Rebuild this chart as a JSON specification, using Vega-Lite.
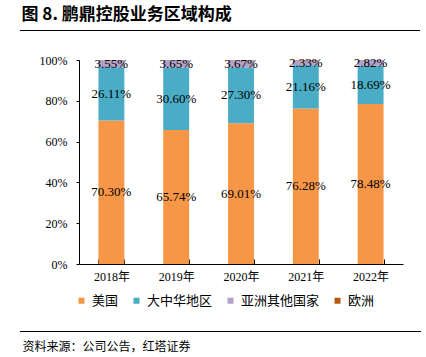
{
  "$schema": "https://vega.github.io/schema/vega-lite/v6.json",
  "width": 324,
  "height": 204,
  "autosize": {"type": "none"},
  "padding": {"left": 79, "top": 60, "right": 23, "bottom": 93},
  "background": "white",
  "title": {
    "text": "图 8. 鹏鼎控股业务区域构成",
    "anchor": "start",
    "dx": 2,
    "offset": 6,
    "font": "Noto Sans CJK SC",
    "fontSize": 17,
    "fontWeight": "bold",
    "color": "#000000"
  },
  "datasets": {
    "shares": [
      {"year": "2018年", "region": "美国", "rank": 1, "share": 0.7030},
      {"year": "2018年", "region": "大中华地区", "rank": 2, "share": 0.2611},
      {"year": "2018年", "region": "亚洲其他国家", "rank": 3, "share": 0.0355},
      {"year": "2018年", "region": "欧洲", "rank": 4, "share": 0.0004},
      {"year": "2019年", "region": "美国", "rank": 1, "share": 0.6574},
      {"year": "2019年", "region": "大中华地区", "rank": 2, "share": 0.3060},
      {"year": "2019年", "region": "亚洲其他国家", "rank": 3, "share": 0.0365},
      {"year": "2019年", "region": "欧洲", "rank": 4, "share": 0.0001},
      {"year": "2020年", "region": "美国", "rank": 1, "share": 0.6901},
      {"year": "2020年", "region": "大中华地区", "rank": 2, "share": 0.2730},
      {"year": "2020年", "region": "亚洲其他国家", "rank": 3, "share": 0.0367},
      {"year": "2020年", "region": "欧洲", "rank": 4, "share": 0.0002},
      {"year": "2021年", "region": "美国", "rank": 1, "share": 0.7628},
      {"year": "2021年", "region": "大中华地区", "rank": 2, "share": 0.2116},
      {"year": "2021年", "region": "亚洲其他国家", "rank": 3, "share": 0.0233},
      {"year": "2021年", "region": "欧洲", "rank": 4, "share": 0.0023},
      {"year": "2022年", "region": "美国", "rank": 1, "share": 0.7848},
      {"year": "2022年", "region": "大中华地区", "rank": 2, "share": 0.1869},
      {"year": "2022年", "region": "亚洲其他国家", "rank": 3, "share": 0.0282},
      {"year": "2022年", "region": "欧洲", "rank": 4, "share": 0.0001}
    ],
    "lines": [
      {"pos": "top"},
      {"pos": "bottom"}
    ]
  },
  "layer": [
    {
      "data": {"name": "shares"},
      "mark": {"type": "bar"},
      "encoding": {
        "x": {
          "field": "year",
          "type": "nominal",
          "scale": {"paddingInner": 0.6, "paddingOuter": 0.3},
          "axis": {
            "title": "资料来源：公司公告，红塔证券",
            "titleFont": "Noto Sans CJK SC",
            "titleFontSize": 12,
            "titleFontWeight": "normal",
            "titleColor": "#000000",
            "titleAnchor": "start",
            "titleAlign": "left",
            "titleBaseline": "middle",
            "titleX": -57,
            "titleY": 82,
            "labelAngle": 0,
            "labelFont": "Liberation Serif, Noto Sans CJK SC",
            "labelFontSize": 12,
            "labelColor": "#000000",
            "labelPadding": 12,
            "tickBand": "extent",
            "tickSize": -5,
            "tickColor": "#000000",
            "domainColor": "#000000"
          }
        },
        "y": {
          "field": "share",
          "type": "quantitative",
          "stack": "zero",
          "scale": {"domain": [0, 1], "nice": false},
          "axis": {
            "title": null,
            "values": [0, 0.1, 0.2, 0.3, 0.4, 0.5, 0.6, 0.7, 0.8, 0.9, 1],
            "format": ".0%",
            "grid": false,
            "labelOverlap": false,
            "labelFont": "Liberation Serif",
            "labelFontSize": 12,
            "labelColor": "#000000",
            "labelPadding": 9,
            "tickSize": 3,
            "tickColor": "#000000",
            "domainColor": "#000000"
          }
        },
        "color": {
          "field": "region",
          "type": "nominal",
          "scale": {
            "domain": ["美国", "大中华地区", "亚洲其他国家", "欧洲"],
            "range": ["#F79646", "#4BACC6", "#B3A2C7", "#B65A12"]
          },
          "legend": {
            "title": null,
            "orient": "none",
            "direction": "horizontal",
            "legendX": -4,
            "legendY": 234,
            "symbolType": "square",
            "symbolSize": 36,
            "symbolStrokeWidth": 0,
            "labelFont": "Noto Sans CJK SC",
            "labelFontSize": 13,
            "labelColor": "#000000",
            "labelOffset": 4,
            "columnPadding": 11
          }
        },
        "order": {"field": "rank", "type": "quantitative"}
      }
    },
    {
      "data": {"name": "shares"},
      "transform": [{"filter": "datum.region !== '欧洲'"}],
      "mark": {"type": "text", "font": "Liberation Serif", "fontSize": 13, "color": "#000000"},
      "encoding": {
        "x": {
          "field": "year",
          "type": "nominal",
          "axis": {
            "title": "资料来源：公司公告，红塔证券",
            "titleFont": "Noto Sans CJK SC",
            "titleFontSize": 12,
            "titleFontWeight": "normal",
            "titleColor": "#000000",
            "titleAnchor": "start",
            "titleAlign": "left",
            "titleBaseline": "middle",
            "titleX": -57,
            "titleY": 82,
            "labelAngle": 0,
            "labelFont": "Liberation Serif, Noto Sans CJK SC",
            "labelFontSize": 12,
            "labelColor": "#000000",
            "labelPadding": 12,
            "tickBand": "extent",
            "tickSize": -5,
            "tickColor": "#000000",
            "domainColor": "#000000"
          }
        },
        "y": {
          "field": "share",
          "type": "quantitative",
          "stack": "zero",
          "bandPosition": 0.5,
          "axis": {
            "title": null,
            "values": [0, 0.1, 0.2, 0.3, 0.4, 0.5, 0.6, 0.7, 0.8, 0.9, 1],
            "format": ".0%",
            "grid": false,
            "labelOverlap": false,
            "labelFont": "Liberation Serif",
            "labelFontSize": 12,
            "labelColor": "#000000",
            "labelPadding": 9,
            "tickSize": 3,
            "tickColor": "#000000",
            "domainColor": "#000000"
          }
        },
        "text": {"field": "share", "type": "quantitative", "format": ".2%"},
        "order": {"field": "rank", "type": "quantitative"}
      }
    },
    {
      "data": {"name": "lines"},
      "transform": [{"filter": "datum.pos === 'top'"}],
      "mark": {"type": "rule", "color": "#000000", "strokeWidth": 1, "clip": false},
      "encoding": {"x": {"value": -59}, "x2": {"value": 341}, "y": {"datum": 1.1446}}
    },
    {
      "data": {"name": "lines"},
      "transform": [{"filter": "datum.pos === 'bottom'"}],
      "mark": {"type": "rule", "color": "#000000", "strokeWidth": 1, "clip": false},
      "encoding": {"x": {"value": -59}, "x2": {"value": 342}, "y": {"value": 271.5}}
    }
  ],
  "config": {"view": {"stroke": null}}
}
